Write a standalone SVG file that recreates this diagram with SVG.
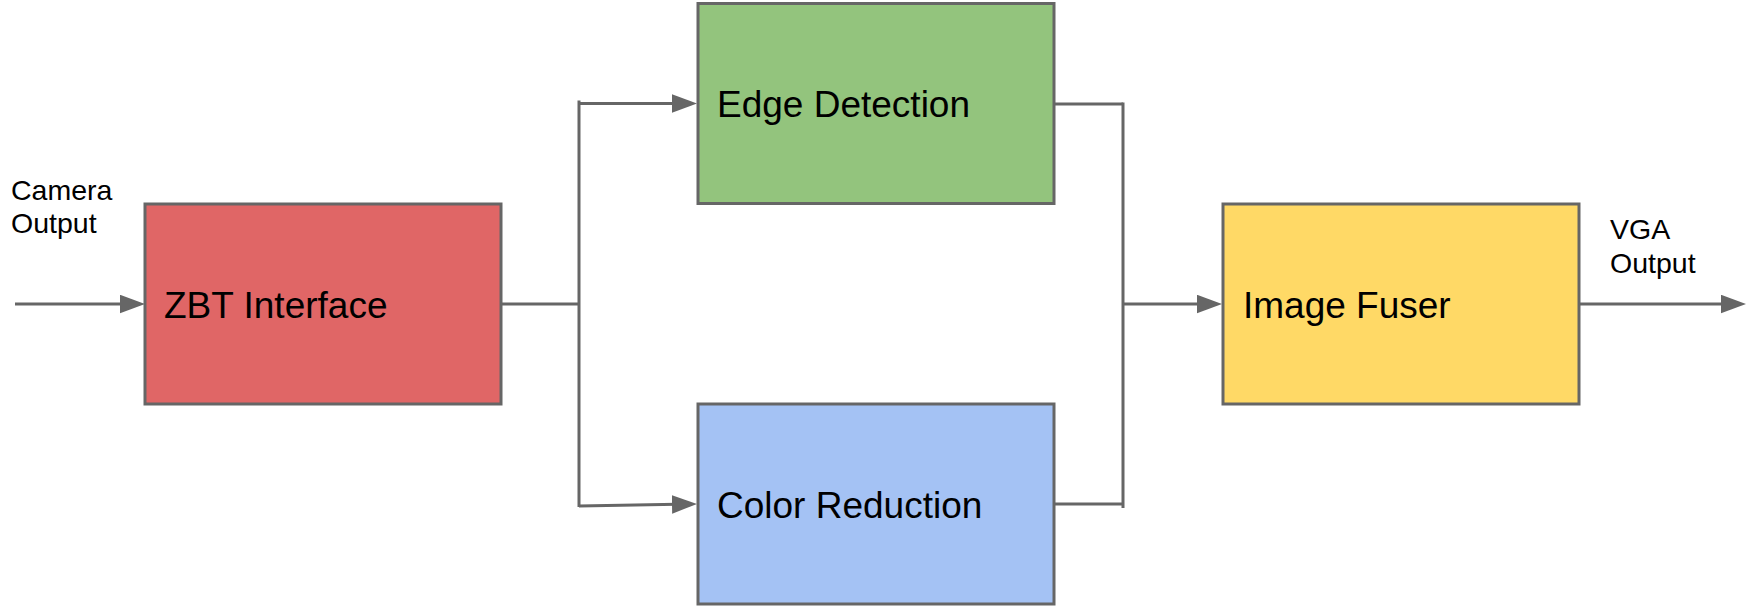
<svg xmlns="http://www.w3.org/2000/svg" width="1748" height="606" viewBox="0 0 1748 606">
  <style>
    .box { stroke: #666666; stroke-width: 3; }
    .label { font-family: "Liberation Sans", Arial, sans-serif; font-size: 37px; fill: #000000; }
    .small { font-family: "Liberation Sans", Arial, sans-serif; font-size: 28.5px; fill: #000000; }
    .conn { fill: none; stroke: #666666; stroke-width: 3; }
  </style>
  <defs>
    <marker id="arrow" markerUnits="userSpaceOnUse" markerWidth="25" markerHeight="19" refX="5" refY="9.25" orient="auto" viewBox="0 0 25 18.5">
      <path d="M0,0 L25,9.25 L0,18.5 Z" fill="#666666"/>
    </marker>
  </defs>
  <rect width="1748" height="606" fill="#ffffff"/>

  <g id="camera-label">
    <text class="small" x="11" y="200">Camera</text>
    <text class="small" x="11" y="233">Output</text>
  </g>
  <g id="vga-label">
    <text class="small" x="1610" y="239">VGA</text>
    <text class="small" x="1610" y="273">Output</text>
  </g>

  <g id="connectors">
    <line class="conn" x1="15" y1="304" x2="125" y2="304" marker-end="url(#arrow)"/>
    <line class="conn" x1="501" y1="304" x2="579" y2="304"/>
    <line class="conn" x1="579" y1="100.5" x2="579" y2="507"/>
    <line class="conn" x1="579" y1="103.5" x2="677" y2="103.5" marker-end="url(#arrow)"/>
    <line class="conn" x1="579" y1="506" x2="677" y2="504.3" marker-end="url(#arrow)"/>
    <line class="conn" x1="1054" y1="104" x2="1123" y2="104"/>
    <line class="conn" x1="1054" y1="504" x2="1123" y2="504"/>
    <line class="conn" x1="1123" y1="102.5" x2="1123" y2="508"/>
    <line class="conn" x1="1123" y1="304" x2="1202" y2="304" marker-end="url(#arrow)"/>
    <line class="conn" x1="1580" y1="304" x2="1726" y2="304" marker-end="url(#arrow)"/>
  </g>

  <g id="zbt-interface">
    <rect class="box" x="145" y="204" width="356" height="200" fill="#e06666"/>
    <text class="label" x="164" y="318">ZBT Interface</text>
  </g>
  <g id="edge-detection">
    <rect class="box" x="698" y="3.5" width="356" height="200" fill="#93c47d"/>
    <text class="label" x="717" y="117">Edge Detection</text>
  </g>
  <g id="color-reduction">
    <rect class="box" x="698" y="404" width="356" height="200" fill="#a4c2f4"/>
    <text class="label" x="717" y="518">Color Reduction</text>
  </g>
  <g id="image-fuser">
    <rect class="box" x="1223" y="204" width="356" height="200" fill="#ffd966"/>
    <text class="label" x="1243" y="318">Image Fuser</text>
  </g>
</svg>
